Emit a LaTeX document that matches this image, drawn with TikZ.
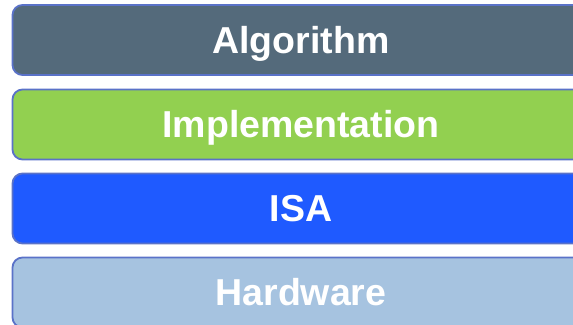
\documentclass[tikz,border=0pt]{standalone}
\usepackage{fontspec}
\setmainfont{Liberation Sans}
\definecolor{layerline}{HTML}{5A72C8}
\definecolor{algofill}{HTML}{546A7B}
\definecolor{implfill}{HTML}{92D050}
\definecolor{isafill}{HTML}{1F5AFF}
\definecolor{hwfill}{HTML}{A6C3E0}
\tikzset{
  layer/.style={draw=layerline, line width=1.8pt, rounded corners=10pt,
    minimum width=577pt, minimum height=70pt, inner sep=0pt,
    text=white, font=\fontsize{37.5}{42}\selectfont\bfseries,
    text height=26.8pt, text depth=0pt}
}
\begin{document}
\begin{tikzpicture}[x=1pt,y=-1pt]
  \useasboundingbox (0,0) rectangle (573,324);
  \clip (0,0) rectangle (573,324);
  \node[layer, fill=algofill] (algo) at (301,40) {Algorithm};
  \node[layer, fill=implfill] (impl) at (301,124.5) {Implementation};
  \node[layer, fill=isafill]  (isa)  at (301,208.5) {ISA};
  \node[layer, fill=hwfill]   (hw)   at (301,292.5) {Hardware};
\end{tikzpicture}
\end{document}
